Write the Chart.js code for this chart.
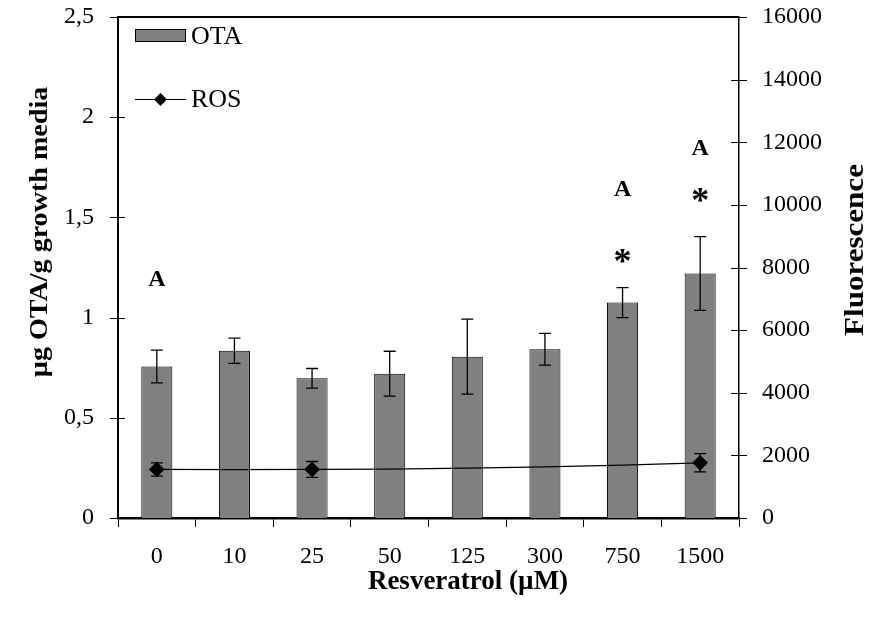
<!DOCTYPE html>
<html>
<head>
<meta charset="utf-8">
<script src="https://cdn.jsdelivr.net/npm/chart.js@4.4.0/dist/chart.umd.min.js"></script>
<style>
  html, body { margin: 0; padding: 0; background: #fff; }
  #wrap { width: 891px; height: 618px; position: relative; }
</style>
</head>
<body>
<div id="wrap"><canvas id="chart"></canvas></div>
<script>
const doses = ["0", "10", "25", "50", "125", "300", "750", "1500"]
const otaMean = [0.756, 0.835, 0.697, 0.720, 0.805, 0.842, 1.075, 1.220]
const otaErr = [0.082, 0.063, 0.049, 0.112, 0.187, 0.079, 0.075, 0.184]
const rosMean = [1550, 1545, 1550, 1562, 1590, 1635, 1686, 1763]
const rosErr = [210, null, 255, null, null, null, null, 290]
const rosMarked = [true, false, true, false, false, false, false, true]
const otaTicks = [0, 0.5, 1, 1.5, 2, 2.5]
const rosTicks = [0, 2000, 4000, 6000, 8000, 10000, 12000, 14000, 16000]

// significance letters / stars, y given on the OTA scale
const sigLabels = [
  { dose: "0", text: "A", at: 1.193 },
  { dose: "750", text: "A", at: 1.646 },
  { dose: "1500", text: "A", at: 1.851 },
  { dose: "750", text: "*", at: 1.306 },
  { dose: "1500", text: "*", at: 1.61 },
]

const FONT = "'Liberation Serif', 'Times New Roman', serif"

const errorBars = {
  id: "errorBars",
  afterDatasetsDraw(chart) {
    const { ctx, scales } = chart
    const bar = (px, lo, hi, cap) => {
      ctx.beginPath()
      ctx.moveTo(px, lo)
      ctx.lineTo(px, hi)
      ctx.moveTo(px - cap, lo)
      ctx.lineTo(px + cap, lo)
      ctx.moveTo(px - cap, hi)
      ctx.lineTo(px + cap, hi)
      ctx.stroke()
    }
    ctx.save()
    ctx.strokeStyle = "#000"
    ctx.lineWidth = 1.3
    otaMean.forEach((m, i) => {
      const px = scales.x.getPixelForValue(i)
      bar(px, scales.y.getPixelForValue(m - otaErr[i]), scales.y.getPixelForValue(m + otaErr[i]), 6)
    })
    rosMean.forEach((m, i) => {
      if (rosErr[i] == null) return
      const px = scales.x.getPixelForValue(i)
      bar(px, scales.y1.getPixelForValue(m - rosErr[i]), scales.y1.getPixelForValue(m + rosErr[i]), 6)
    })
    ctx.restore()
  }
}

// tick marks that cross the two value axes, plus the top frame line
const frame = {
  id: "frame",
  afterDraw(chart) {
    const { ctx, chartArea, scales } = chart
    ctx.save()
    ctx.strokeStyle = "#000"
    ctx.lineWidth = 1
    ctx.beginPath()
    otaTicks.forEach(v => {
      const py = Math.round(scales.y.getPixelForValue(v)) + 0.5
      ctx.moveTo(chartArea.left - 8, py)
      ctx.lineTo(chartArea.left + 7, py)
    })
    rosTicks.forEach(v => {
      const py = Math.round(scales.y1.getPixelForValue(v)) + 0.5
      ctx.moveTo(chartArea.right - 8, py)
      ctx.lineTo(chartArea.right + 8, py)
    })
    ctx.stroke()
    ctx.lineWidth = 2
    ctx.beginPath()
    ctx.moveTo(chartArea.left, chartArea.top)
    ctx.lineTo(chartArea.right, chartArea.top)
    ctx.stroke()
    ctx.restore()
  }
}

const annotations = {
  id: "annotations",
  afterDraw(chart) {
    const { ctx, scales } = chart
    ctx.save()
    ctx.fillStyle = "#000"
    ctx.textAlign = "center"
    ctx.textBaseline = "alphabetic"
    sigLabels.forEach(l => {
      ctx.font = l.text === "*" ? `bold 36px ${FONT}` : `bold 24px ${FONT}`
      const m = ctx.measureText(l.text)
      const px = scales.x.getPixelForValue(doses.indexOf(l.dose))
      const py = scales.y.getPixelForValue(l.at)
      ctx.fillText(l.text, px, py + (m.actualBoundingBoxAscent - m.actualBoundingBoxDescent) / 2)
    })
    ctx.restore()
  }
}

const legendBox = {
  id: "legendBox",
  afterDraw(chart) {
    const { ctx, chartArea } = chart
    const x0 = chartArea.left + 17
    const ds = chart.data.datasets
    ctx.save()
    ctx.fillStyle = "#808080"
    ctx.strokeStyle = "#000"
    ctx.lineWidth = 1
    ctx.fillRect(x0, 29, 51, 13)
    ctx.strokeRect(x0 + 0.5, 29.5, 50, 12)
    ctx.beginPath()
    ctx.moveTo(x0, 99.5)
    ctx.lineTo(x0 + 51, 99.5)
    ctx.stroke()
    ctx.fillStyle = "#000"
    ctx.beginPath()
    ctx.moveTo(x0 + 25.5, 93)
    ctx.lineTo(x0 + 32, 99.5)
    ctx.lineTo(x0 + 25.5, 106)
    ctx.lineTo(x0 + 19, 99.5)
    ctx.closePath()
    ctx.fill()
    ctx.font = `26px ${FONT}`
    ctx.textBaseline = "middle"
    ctx.fillText(ds[1].label, x0 + 56, 37)
    ctx.fillText(ds[0].label, x0 + 56, 100)
    ctx.restore()
  }
}

// rotated titles get a slight stretch along the text direction
const drawRotated = (ctx, text, x, y, size, stretch) => {
  ctx.save()
  ctx.fillStyle = "#000"
  ctx.font = `bold ${size}px ${FONT}`
  ctx.textAlign = "center"
  ctx.textBaseline = "middle"
  ctx.translate(x, y)
  ctx.rotate(-Math.PI / 2)
  ctx.scale(stretch, 1)
  ctx.fillText(text, 0, 0)
  ctx.restore()
}

const axisTitles = {
  id: "axisTitles",
  afterDraw(chart) {
    const ctx = chart.ctx
    ctx.save()
    ctx.fillStyle = "#000"
    ctx.font = `bold 27px ${FONT}`
    ctx.textAlign = "center"
    ctx.textBaseline = "middle"
    ctx.fillText("Resveratrol (µM)", 468, 582)
    ctx.restore()
    drawRotated(ctx, "µg OTA/g growth media", 40, 232, 26, 1.08)
    drawRotated(ctx, "Fluorescence", 856, 250, 27, 1.15)
  }
}

// let the top/bottom tick labels overhang instead of shrinking the plot
const noOverhang = s => {
  s.paddingTop = 0
  s.paddingBottom = 0
  s.paddingLeft = 0
  s.paddingRight = 0
}

const tickFont = { family: FONT, size: 24 }

new Chart(document.getElementById("chart"), {
  type: "bar",
  data: {
    labels: doses,
    datasets: [
      {
        type: "line",
        label: "ROS",
        data: rosMean,
        yAxisID: "y1",
        order: 0,
        borderColor: "#000",
        borderWidth: 1.2,
        tension: 0,
        pointStyle: "rectRot",
        pointRadius: rosMarked.map(m => (m ? 7 : 0)),
        pointBackgroundColor: "#000",
        pointBorderColor: "#000",
      },
      {
        label: "OTA",
        data: otaMean,
        yAxisID: "y",
        order: 1,
        backgroundColor: "#808080",
        borderColor: "#000",
        borderWidth: 1,
        barPercentage: 0.4,
        categoryPercentage: 1,
      }
    ]
  },
  options: {
    responsive: true,
    maintainAspectRatio: false,
    animation: false,
    layout: { padding: { top: 17, left: 0, right: 0, bottom: 0 } },
    plugins: {
      legend: { display: false },
      tooltip: { enabled: false },
    },
    scales: {
      x: {
        grid: { display: true, offset: true, drawOnChartArea: false, drawTicks: true, tickLength: 9, color: "#000", lineWidth: 1 },
        border: { display: true, color: "#000", width: 2.5 },
        ticks: { color: "#000", font: tickFont, padding: 15 },
        afterFit: s => { s.height = 100; noOverhang(s) },
      },
      y: {
        position: "left",
        min: 0,
        max: 2.5,
        afterBuildTicks: s => { s.ticks = otaTicks.map(v => ({ value: v })) },
        grid: { display: false },
        border: { display: true, color: "#000", width: 2 },
        ticks: { color: "#000", font: tickFont, padding: 16, callback: v => String(v).replace(".", ",") },
        afterFit: s => { s.width = 118; noOverhang(s) },
      },
      y1: {
        position: "right",
        min: 0,
        max: 16000,
        afterBuildTicks: s => { s.ticks = rosTicks.map(v => ({ value: v })) },
        grid: { display: false },
        border: { display: true, color: "#000", width: 1.5 },
        ticks: { color: "#000", font: tickFont, padding: 15, callback: v => String(v) },
        afterFit: s => { s.width = 152; noOverhang(s) },
      }
    }
  },
  plugins: [errorBars, frame, annotations, legendBox, axisTitles]
})
</script>
</body>
</html>
